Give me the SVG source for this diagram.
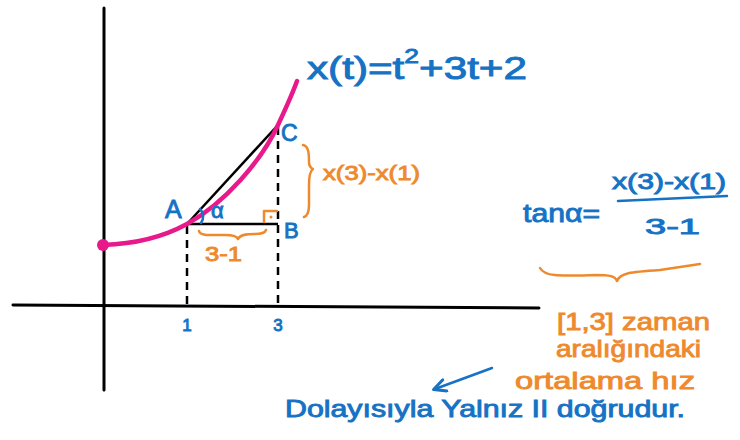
<svg xmlns="http://www.w3.org/2000/svg" width="740" height="440" viewBox="0 0 740 440">
<style>
.ax{stroke:#000;stroke-width:3;fill:none;stroke-linecap:round}
.blk{stroke:#000;stroke-width:2.5;fill:none}
.dash{stroke:#000;stroke-width:2.5;fill:none;stroke-dasharray:8 6}
.pink{stroke:#e8198b;stroke-width:4.5;fill:none;stroke-linecap:round}
.or{stroke:#ee8a2d;stroke-width:2.5;fill:none;stroke-linecap:round;stroke-linejoin:round}
.bl{stroke:#1572c4;stroke-width:2.5;fill:none;stroke-linecap:round}
.tb{font-family:"Liberation Sans","DejaVu Sans",sans-serif;fill:#1572c4;stroke:#1572c4;stroke-width:0.9}
.to{font-family:"Liberation Sans","DejaVu Sans",sans-serif;fill:#ee8a2d;stroke:#ee8a2d;stroke-width:0.9}
</style>
<defs>
<marker id="ah" viewBox="0 0 10 10" refX="8" refY="5" markerWidth="6" markerHeight="6" orient="auto">
<path d="M1,1 L9,5 L1,9" fill="none" stroke="#1572c4" stroke-width="2" stroke-linecap="round" stroke-linejoin="round"/>
</marker>
</defs>
<rect width="740" height="440" fill="#fff"/>
<g id="axes">
<line class="ax" x1="13" y1="305" x2="539" y2="308"/>
<line class="ax" x1="104" y1="8" x2="104" y2="390"/>
</g>
<g id="connectors">
<line class="dash" x1="187" y1="226" x2="187" y2="306"/>
<line class="dash" x1="278" y1="127" x2="278" y2="307"/>
<line class="blk" x1="187" y1="224" x2="278" y2="125"/>
<line class="blk" x1="187" y1="224" x2="278" y2="224"/>
<path class="pink" d="M103,245 C135,244 165,236 187,224 C225,203 262,160 278,125 C285,110 292,95 297,81"/>
<circle cx="103" cy="245" r="6" fill="#e8198b"/>
<path class="or" d="M264,222 L264,211 L277,211"/>
<circle cx="271" cy="217" r="1.5" fill="#ee8a2d"/>
<path class="bl" d="M200,209 C204,213 204,219 201,223"/>
<path class="or" d="M199,231 C200,236 210,235 225,235 C233,235 237,236 238,239 C240,235 245,234 255,234 C262,234 265,233 266,230"/>
<path class="or" d="M303,145 C309,146 309,155 309,162 C309,166 311,168 313,169 C310,171 309,175 309,185 L309,205 C309,213 307,216 304,217"/>
<line class="bl" x1="618" y1="201" x2="727" y2="196"/>
<path class="or" d="M540,268 C545,277 560,276 595,275 C610,275 615,276 617,281 C620,273 630,272 660,270 L700,264"/>
<path class="bl" d="M492,368 L435,389" marker-end="url(#ah)"/>
</g>
<g id="labels">
<text class="tb" x="307" y="79" font-size="32" textLength="220" lengthAdjust="spacingAndGlyphs">x(t)=t<tspan font-size="20" dy="-16">2</tspan><tspan dy="16">+3t+2</tspan></text>
<text class="tb" x="165" y="218" font-size="25">A</text>
<text class="tb" x="211" y="218" font-size="22">α</text>
<text class="tb" x="281" y="141" font-size="23">C</text>
<text class="tb" x="284" y="238" font-size="22">B</text>
<text class="to" x="205" y="261" font-size="20" textLength="37" lengthAdjust="spacingAndGlyphs">3-1</text>
<text class="to" x="323" y="180" font-size="21" textLength="97" lengthAdjust="spacingAndGlyphs">x(3)-x(1)</text>
<text class="tb" x="187" y="331" font-size="17" text-anchor="middle">1</text>
<text class="tb" x="278" y="331" font-size="17" text-anchor="middle">3</text>
<text class="tb" x="523" y="222" font-size="26" textLength="77" lengthAdjust="spacingAndGlyphs">tanα=</text>
<text class="tb" x="612" y="189" font-size="22" textLength="114" lengthAdjust="spacingAndGlyphs">x(3)-x(1)</text>
<text class="tb" x="645" y="234" font-size="22" textLength="55" lengthAdjust="spacingAndGlyphs">3-1</text>
<text class="to" x="557" y="330" font-size="24" textLength="153" lengthAdjust="spacingAndGlyphs">[1,3] zaman</text>
<text class="to" x="556" y="357" font-size="24" textLength="145" lengthAdjust="spacingAndGlyphs">aralığındaki</text>
<text class="to" x="515" y="389" font-size="24" textLength="180" lengthAdjust="spacingAndGlyphs">ortalama hız</text>
<text class="tb" x="285" y="417" font-size="24" textLength="400" lengthAdjust="spacingAndGlyphs">Dolayısıyla Yalnız II doğrudur.</text>
</g>
</svg>
